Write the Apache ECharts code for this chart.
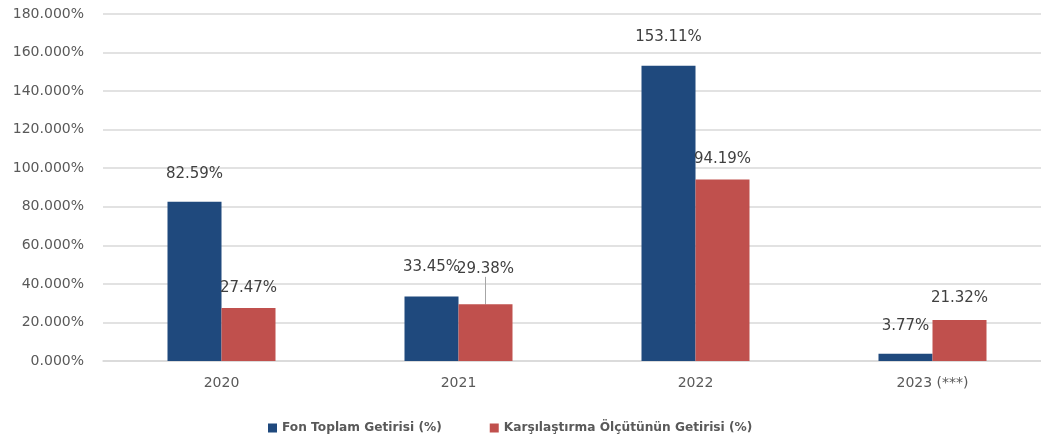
<!DOCTYPE html>
<html>
<head>
<meta charset="utf-8">
<script src="https://cdn.jsdelivr.net/npm/echarts@6/dist/echarts.min.js"></script>
<style>
    html, body { margin: 0; padding: 0; background: #fff; }
    #chart { width: 1041px; height: 445px; }
</style>
</head>
<body>
<div id="chart"></div>
<script>
    // veriler
    var years = ['2020', '2021', '2022', '2023 (***)']
    var fonGetiri = [82.59, 33.45, 153.11, 3.77]
    var olcutGetiri = [27.47, 29.38, 94.19, 21.32]
    var seriesNames = ['Fon Toplam Getirisi (%)', 'Karşılaştırma Ölçütünün Getirisi (%)']
    var yTicks = [0, 20, 40, 60, 80, 100, 120, 140, 160, 180]

    // etiketlerin çubuk üstünden yüksekliği (px)
    var fonLift = [28, 29, 29, 28]
    var olcutLift = [20, 35, 20, 22]

    var chart = echarts.init(document.getElementById('chart'))
    var font = 'DejaVu Sans'

    function liftLayout(lifts) {
        return function (params) {
            return {
                x: params.rect.x + params.rect.width / 2,
                y: params.rect.y - lifts[params.dataIndex],
                align: 'center',
                verticalAlign: 'middle'
            }
        }
    }

    chart.setOption({
        animation: false,
        color: ['#1F497D', '#C0504D'],
        textStyle: { fontFamily: font },
        grid: { left: 103, width: 948, top: 14, bottom: 84, outerBoundsMode: 'none' },
        legend: {
            data: seriesNames,
            left: 263,
            top: 417,
            itemWidth: 9,
            itemHeight: 9,
            itemGap: 48,
            icon: 'rect',
            textStyle: { fontFamily: font, fontSize: 12.2, fontWeight: 'bold', color: '#595959' }
        },
        xAxis: {
            type: 'category',
            data: years,
            axisTick: { show: false },
            axisLine: { lineStyle: { color: '#d9d9d9', width: 1.5 } },
            axisLabel: { color: '#595959', fontSize: 14, margin: 15, fontFamily: font }
        },
        yAxis: {
            type: 'value',
            min: yTicks[0],
            max: yTicks[yTicks.length - 1],
            interval: yTicks[1] - yTicks[0],
            axisLine: { show: false },
            axisTick: { show: false },
            splitLine: { lineStyle: { color: '#d9d9d9', width: 1.5 } },
            axisLabel: {
                color: '#595959',
                fontSize: 14,
                margin: 19,
                fontFamily: font,
                formatter: function (v) { return v.toFixed(3) + '%' }
            }
        },
        series: [
            {
                name: seriesNames[0],
                type: 'bar',
                barWidth: 54,
                barGap: '0%',
                data: fonGetiri,
                label: {
                    show: true,
                    position: 'top',
                    color: '#404040',
                    fontSize: 15,
                    fontFamily: font,
                    formatter: function (p) { return p.value.toFixed(2) + '%' }
                },
                labelLayout: liftLayout(fonLift)
            },
            {
                name: seriesNames[1],
                type: 'bar',
                barWidth: 54,
                barGap: '0%',
                data: olcutGetiri.map(function (v, i) {
                    return i === 1 ? { value: v, labelLine: { show: true } } : v
                }),
                label: {
                    show: true,
                    position: 'top',
                    color: '#404040',
                    fontSize: 15,
                    fontFamily: font,
                    formatter: function (p) { return p.value.toFixed(2) + '%' }
                },
                labelLine: { show: false, lineStyle: { color: '#a6a6a6', width: 1 } },
                labelLayout: liftLayout(olcutLift)
            }
        ]
    })
</script>
</body>
</html>
